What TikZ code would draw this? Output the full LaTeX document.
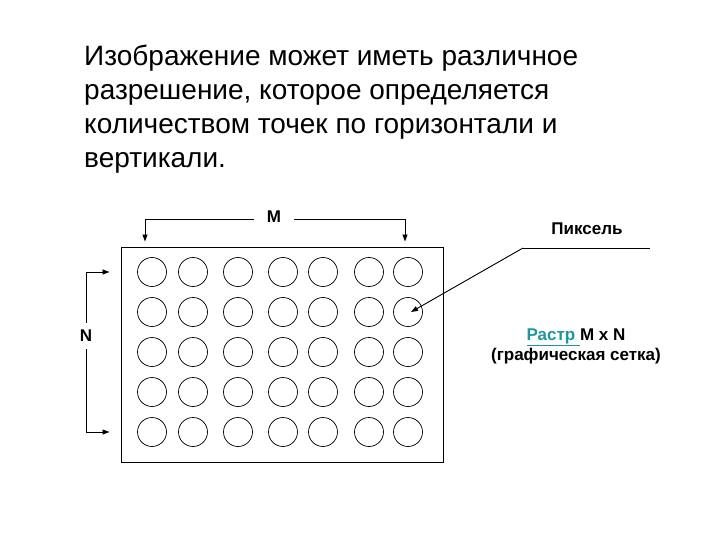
\documentclass[tikz,border=0pt]{standalone}
\usepackage{fontspec}
\setmainfont{Liberation Sans}
\usetikzlibrary{arrows.meta,positioning}
\definecolor{rastr}{RGB}{30,150,160}
\tikzset{
  pix/.style   = {circle, draw, line width=0.7pt, minimum size=29pt, inner sep=0pt},
  lbl/.style   = {font=\bfseries\fontsize{17}{20}\selectfont, inner sep=2pt},
  frame/.style = {draw, line width=1pt, minimum width=322pt, minimum height=215pt},
  ptr/.style   = {-{Triangle[length=7pt,width=5pt]}, line width=0.9pt},
}

\begin{document}
\begin{tikzpicture}[x=1pt,y=-1pt]
  \useasboundingbox (0,0) rectangle (720,540);
  % heading
  \node[anchor=north west, align=left, inner sep=0pt,
        font=\fontsize{28}{34}\selectfont] (head) at (84,45)
    {Изображение может иметь различное\\
     разрешение, которое определяется\\
     количеством точек по горизонтали и\\
     вертикали.};

  % raster frame and pixels
  \node[frame] (grid) at (282,354.5) {};
  \foreach \x [count=\j] in {152,193,238,283,323,369,408}
    \foreach \y [count=\i] in {272,312,352,392,432}
      \node[pix] (c-\i-\j) at (\x,\y) {};

  % M across
  \node[lbl] (m) at (274,217) {M};
  \coordinate (ml) at (145,219);
  \coordinate (mr) at (405,219);
  \draw[ptr, shorten <=11pt, shorten >=5pt] (m.west |- ml) -| (ml |- grid.north);
  \draw[ptr, shorten <=11pt, shorten >=5pt] (m.east |- mr) -| (mr |- grid.north);

  % N down
  \node[lbl] (n) at (86,336) {N};
  \draw[ptr, shorten <=5pt, shorten >=11pt] (n.north) |- (grid.west |- c-1-1);
  \draw[ptr, shorten <=5pt, shorten >=11pt] (n.south) |- (grid.west |- c-5-1);

  % pixel pointer
  \node[lbl] (pixel) at (587,229) {Пиксель};
  \coordinate (bend) at (523,248);
  \coordinate (pend) at (650,248);
  \draw[line width=0.9pt] (pend) -- (bend);
  \draw[ptr] (bend) -- ([xshift=3pt]c-2-7.center);

  % caption
  \node[lbl] (raster) at (576,337) {\textcolor{rastr}{\underline{Растр\ }}M x N};
  \node[lbl, below=-2pt of raster] (net) {(графическая сетка)};
\end{tikzpicture}
\end{document}
